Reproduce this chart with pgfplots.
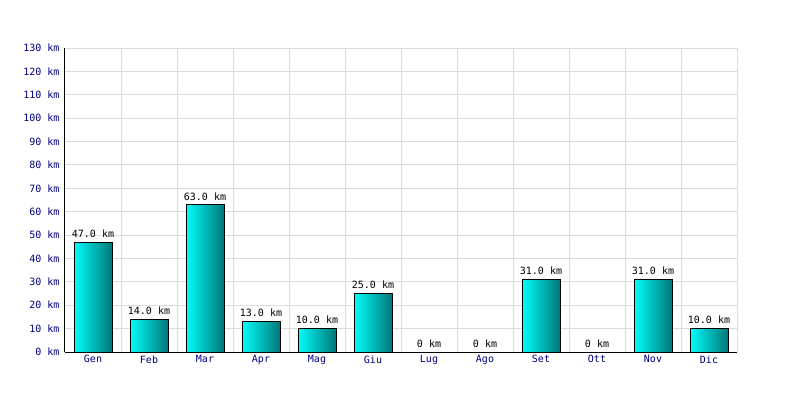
\documentclass[border=0pt]{standalone}
\usepackage{fontspec}
\setmainfont{DejaVu Sans Mono}
\usepackage{pgfplots}
\pgfplotsset{compat=1.18}
\definecolor{barlight}{RGB}{0,252,252}
\definecolor{bardark}{RGB}{0,120,120}
\definecolor{labblue}{RGB}{0,0,128}
\definecolor{gridgray}{RGB}{220,220,220}
\pgfplotsset{
  gbar/.style={ybar, bar width=38pt, bar shift=0pt, draw=black, line width=1pt,
    left color=barlight, right color=bardark, forget plot},
}
\begin{document}
\begin{tikzpicture}
\useasboundingbox (-65pt,-48pt) rectangle (735pt,352pt);
\begin{axis}[
  at={(0pt,0pt)}, anchor=south west,
  scale only axis, width=672pt, height=304pt,
  xmin=-0.5, xmax=11.5, ymin=0, ymax=130,
  axis x line*=bottom, axis y line*=left,
  axis line style={black, line width=1pt, -},
  xtick={0,...,11},
  xticklabels={Gen,Feb,Mar,Apr,Mag,Giu,Lug,Ago,Set,Ott,Nov,Dic},
  minor xtick={-0.5,0.5,...,11.5},
  ytick={0,10,...,130},
  yticklabel={\pgfmathprintnumber{\tick} km},
  /pgf/number format/assume math mode=true,
  major tick length=0pt, minor tick length=0pt,
  ymajorgrids, xminorgrids,
  grid style={gridgray, line width=1pt},
  tick label style={font=\fontsize{10}{12}\selectfont, text=labblue},
  yticklabel style={xshift=-2pt},
  clip=false,
]
% bars, one plot each so that every bar gets its own shading
\addplot[gbar] coordinates {(0,47)};
\addplot[gbar] coordinates {(1,14)};
\addplot[gbar] coordinates {(2,63)};
\addplot[gbar] coordinates {(3,13)};
\addplot[gbar] coordinates {(4,10)};
\addplot[gbar] coordinates {(5,25)};
\addplot[gbar] coordinates {(8,31)};
\addplot[gbar] coordinates {(10,31)};
\addplot[gbar] coordinates {(11,10)};
% value labels
\addplot[ybar, bar width=38pt, bar shift=0pt, draw=none, fill=none,
  nodes near coords, point meta=explicit symbolic,
  every node near coord/.append style={font=\fontsize{10}{12}\selectfont, text=black, yshift=1pt}]
  coordinates {
  (0,47) [47.0 km]
  (1,14) [14.0 km]
  (2,63) [63.0 km]
  (3,13) [13.0 km]
  (4,10) [10.0 km]
  (5,25) [25.0 km]
  (6,0) [0 km]
  (7,0) [0 km]
  (8,31) [31.0 km]
  (9,0) [0 km]
  (10,31) [31.0 km]
  (11,10) [10.0 km]
};
\end{axis}
\end{tikzpicture}
\end{document}
